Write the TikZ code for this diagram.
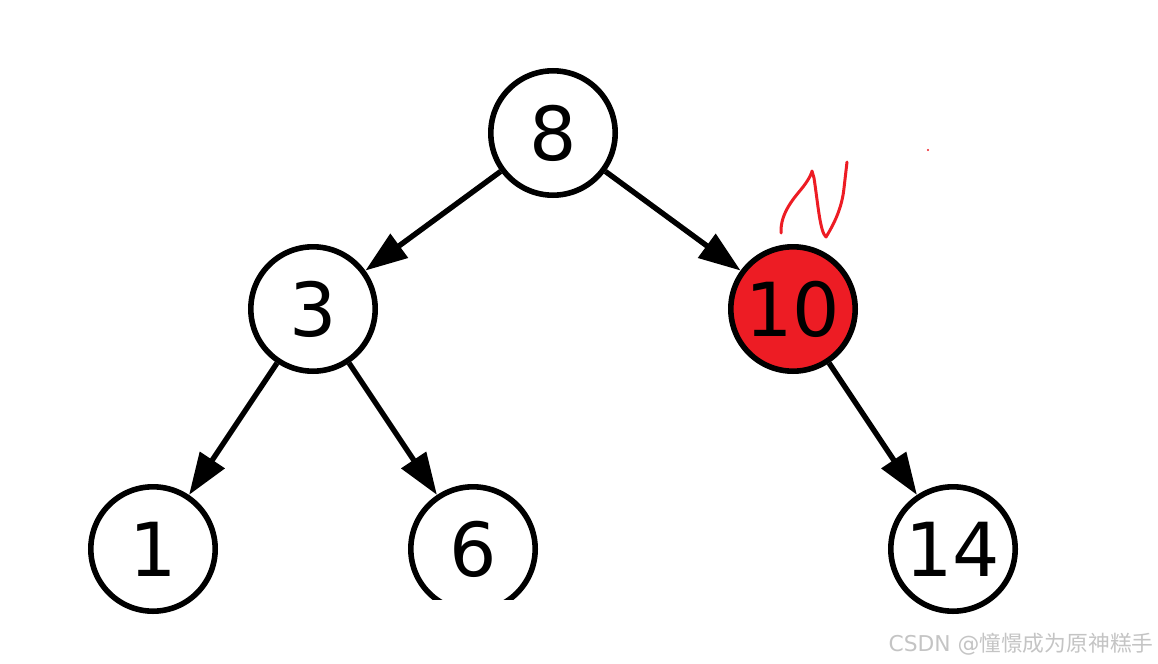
\documentclass[tikz,border=0pt]{standalone}
\usepackage{fontspec}
\usepackage{xcolor}
\setmainfont{DejaVu Sans}
\newfontfamily\cjkfont{Noto Sans CJK SC}
\usetikzlibrary{positioning, arrows.meta}
\definecolor{MarkRed}{HTML}{ED1C24}
\definecolor{MarkGray}{HTML}{C4C4C4}

\begin{document}
\begin{tikzpicture}[
            treenode/.style={draw=black, circle, line width=0.14cm, fill=white, minimum size=3.11cm, inner sep=0pt, font=\fontsize{53}{60}\selectfont},
            marked/.style={fill=MarkRed},
            arrow/.style={-{Triangle[length=1.05cm, width=0.72cm]}, line width=0.135cm, black},
            node distance=4.4cm and 6cm, on grid
        ]
            \useasboundingbox (0,0) rectangle (28.95,-16.6);

            \node[treenode] (n8) at (13.825,-3.325) {8};
            \node[treenode, below left=of n8] (n3) {3};
            \node[treenode, marked, below right=of n8] (n10) {10};
            \node[treenode, below left=6cm and 4cm of n3] (n1) {1};
            \node[treenode, below right=6cm and 4cm of n3] (n6) {6};
            \node[treenode, below right=6cm and 4cm of n10] (n14) {14};

            \draw[arrow] (n8) -- (n3);
            \draw[arrow] (n8) -- (n10);
            \draw[arrow] (n3) -- (n1);
            \draw[arrow] (n3) -- (n6);
            \draw[arrow] (n10) -- (n14);

            % bottom of 6 is cut off
            \fill[white] (10,-15) rectangle (13.7,-15.6);

            % red scribble above 10
            \draw[MarkRed, line width=0.075cm, line cap=round, line join=round]
                (19.525,-5.825) .. controls (19.5,-5.3) and (19.9,-4.9) .. (20.075,-4.675)
                .. controls (20.25,-4.45) and (20.3,-4.3) .. (20.3,-4.275)
                -- (20.35,-4.45)
                .. controls (20.45,-5.1) and (20.5,-5.8) .. (20.65,-5.925)
                .. controls (20.85,-5.6) and (21.05,-5.2) .. (21.1,-4.7)
                -- (21.175,-4.05);
            \fill[MarkRed] (23.2,-3.75) circle (0.03cm);

            % watermark
            \node[text=MarkGray, font=\fontsize{15.5}{17}\selectfont, anchor=east, inner sep=0pt] (mark) at (28.85,-16.1) {CSDN @{\cjkfont 憧憬成为原神糕手}};
        \end{tikzpicture}
\end{document}
